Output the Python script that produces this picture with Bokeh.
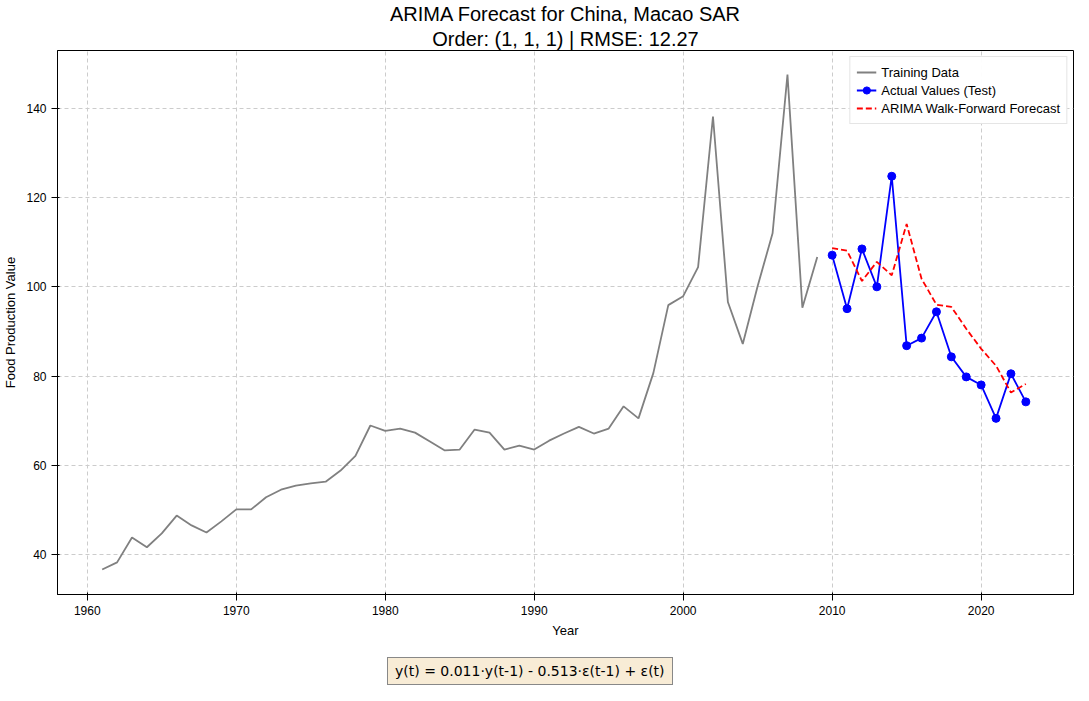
from bokeh.plotting import figure
from bokeh.models import Title, Div, Legend, LegendItem
from bokeh.layouts import column
from bokeh.embed import file_html
from bokeh.resources import INLINE

train_years = list(range(1961, 2010))
train_vals = [36.6, 38.2, 43.8, 41.6, 44.7, 48.7, 46.5, 44.9, 47.4, 50.1,
              50.1, 52.8, 54.5, 55.4, 55.9, 56.3, 58.8, 62.1, 68.9, 67.7,
              68.2, 67.3, 65.3, 63.3, 63.5, 68.0, 67.3, 63.5, 64.4, 63.5,
              65.5, 67.1, 68.6, 67.1, 68.2, 73.2, 70.5, 80.7, 95.9, 97.9,
              104.4, 138.2, 96.6, 87.2, 100.2, 112.0, 147.6, 95.3, 106.7]
test_years = list(range(2010, 2024))
test_vals = [107.1, 95.1, 108.5, 100.0, 124.8, 86.8, 88.5, 94.4, 84.3, 79.8,
             78.0, 70.5, 80.5, 74.2]
forecast_vals = [108.7, 108.1, 101.3, 105.6, 102.6, 114.1, 101.8, 96.0, 95.5,
                 90.6, 86.1, 82.3, 76.3, 78.2]

p = figure(width=1075, height=640, output_backend="svg", toolbar_location=None,
           x_range=(1958, 2026.2), y_range=(31, 153),
           x_axis_label="Year", y_axis_label="Food Production Value",
           min_border_top=0, min_border_right=2)
p.add_layout(Title(text="Order: (1, 1, 1) | RMSE: 12.27", align="center",
                   text_font_size="20px", text_font_style="normal",
                   text_color="black", standoff=2, offset=0), "above")
p.add_layout(Title(text="ARIMA Forecast for China, Macao SAR", align="center",
                   text_font_size="20px", text_font_style="normal",
                   text_color="black", standoff=0), "above")

for ax in (p.xaxis, p.yaxis):
    ax.axis_label_text_font_style = "normal"
    ax.axis_label_text_font_size = "13px"
    ax.axis_label_text_color = "black"
    ax.major_label_text_font_size = "12px"
    ax.major_label_text_color = "black"
    ax.minor_tick_line_color = None
    ax.axis_line_color = "black"
p.xaxis.ticker = [1960, 1970, 1980, 1990, 2000, 2010, 2020]
p.yaxis.ticker = [40, 60, 80, 100, 120, 140]
p.grid.grid_line_dash = "4 3"
p.grid.grid_line_color = "#cccccc"
p.outline_line_color = "black"

r1 = p.line(train_years, train_vals, line_color="gray", line_width=1.8)
r2 = p.line(test_years, test_vals, line_color="blue", line_width=1.8)
r2b = p.scatter(test_years, test_vals, size=8, color="blue")
r3 = p.line(test_years, forecast_vals, line_color="red", line_width=1.8,
            line_dash="6 3")

legend = Legend(items=[
    LegendItem(label="Training Data", renderers=[r1]),
    LegendItem(label="Actual Values (Test)", renderers=[r2, r2b]),
    LegendItem(label="ARIMA Walk-Forward Forecast", renderers=[r3]),
], location="top_right", label_text_font_size="13px", spacing=0,
    border_line_color="#cccccc", glyph_height=18, label_height=18,
    margin=6, padding=6, label_text_color="black")
p.add_layout(legend)

eq = Div(text='<div style="margin-left:382px;margin-top:12px;background:#f8ecd6;border:1px solid #888;'
              'padding:3px 7px;font-size:14px;font-family:DejaVu Sans;display:inline-block">'
              'y(t) =  0.011·y(t-1) - 0.513·ε(t-1) + ε(t)</div>', width=1073, height=42)

layout = column(p, eq)
open("out.html", "w").write(file_html(layout, INLINE))
